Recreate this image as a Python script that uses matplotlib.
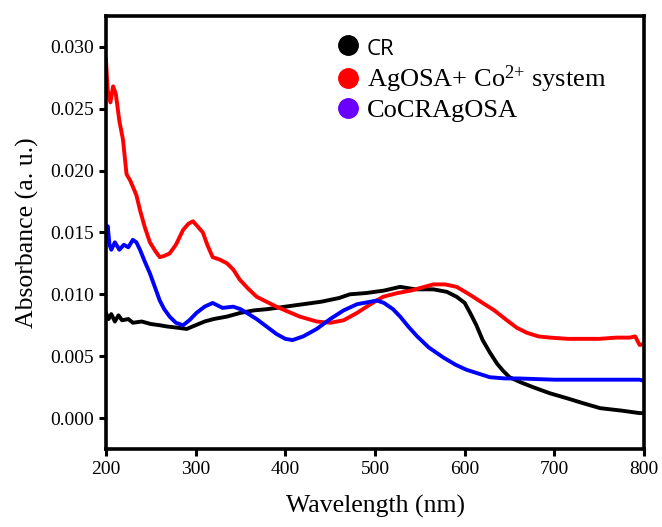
import matplotlib
matplotlib.use("Agg")
import matplotlib.pyplot as plt
from matplotlib.lines import Line2D

# --- data ----------------------------------------------------------------
wl_cr = [200, 203, 206, 210, 214, 218, 225, 230, 240, 250, 260, 268, 280, 290,
         300, 310, 320, 335, 350, 365, 380, 400, 420, 440, 460, 472, 490, 510,
         528, 545, 565, 580, 591, 600, 606, 613, 620, 628, 636, 643, 650, 662,
         676, 695, 714, 732, 751, 775, 795, 800]
abs_cr = [0.0085, 0.0080, 0.0084, 0.0078, 0.0083, 0.0079, 0.0080, 0.0077,
          0.0078, 0.0076, 0.0075, 0.0074, 0.0073, 0.0072, 0.0075, 0.0078,
          0.0080, 0.0082, 0.0085, 0.0087, 0.0088, 0.0090, 0.0092, 0.0094,
          0.0097, 0.0100, 0.0101, 0.0103, 0.0106, 0.0104, 0.0104, 0.0102,
          0.0098, 0.0093, 0.0085, 0.0075, 0.0063, 0.0053, 0.0044, 0.0038,
          0.0033, 0.0029, 0.0025, 0.0020, 0.0016, 0.0012, 0.0008, 0.0006,
          0.0004, 0.0004]

wl_agco = [200, 202, 205, 208, 211, 215, 219, 223, 227, 230, 234, 238, 243,
           249, 255, 260, 265, 271, 278, 286, 292, 297, 302, 308, 313, 319,
           327, 335, 342, 349, 358, 368, 379, 390, 403, 416, 435, 450, 465,
           480, 495, 509, 525, 540, 555, 565, 578, 591, 605, 620, 633, 647,
           658, 669, 682, 695, 715, 732, 750, 769, 784, 790, 795, 800]
abs_agco = [0.0290, 0.0265, 0.0255, 0.0268, 0.0262, 0.0240, 0.0225, 0.0197,
            0.0192, 0.0187, 0.0180, 0.0168, 0.0155, 0.0142, 0.0135, 0.0130,
            0.0131, 0.0133, 0.0140, 0.0152, 0.0157, 0.0159, 0.0155, 0.0150,
            0.0140, 0.0130, 0.0128, 0.0125, 0.0120, 0.0112, 0.0105, 0.0098,
            0.0094, 0.0090, 0.0086, 0.0082, 0.0078, 0.0077, 0.0079, 0.0085,
            0.0092, 0.0098, 0.0101, 0.0103, 0.0106, 0.0108, 0.0108, 0.0106,
            0.0100, 0.0093, 0.0087, 0.0079, 0.0073, 0.0069, 0.0066, 0.0065,
            0.0064, 0.0064, 0.0064, 0.0065, 0.0065, 0.0066, 0.0059, 0.0060]

wl_cocr = [200, 202, 204, 206, 210, 215, 220, 225, 230, 234, 238, 243, 249,
           255, 260, 265, 271, 278, 286, 293, 301, 310, 319, 330, 342, 350,
           357, 368, 379, 390, 400, 408, 420, 435, 450, 465, 480, 495, 502,
           510, 520, 528, 537, 547, 560, 576, 590, 602, 615, 628, 645, 660,
           700, 750, 795, 800]
abs_cocr = [0.0150, 0.0155, 0.0140, 0.0136, 0.0142, 0.0136, 0.0140, 0.0138,
            0.0144, 0.0142, 0.0136, 0.0127, 0.0117, 0.0105, 0.0095, 0.0088,
            0.0082, 0.0077, 0.0075, 0.0079, 0.0085, 0.0090, 0.0093, 0.0089,
            0.0090, 0.0088, 0.0085, 0.0080, 0.0074, 0.0068, 0.0064, 0.0063,
            0.0066, 0.0072, 0.0080, 0.0087, 0.0092, 0.0094, 0.0095, 0.0093,
            0.0088, 0.0082, 0.0074, 0.0066, 0.0057, 0.0049, 0.0043, 0.0039,
            0.0036, 0.0033, 0.0032, 0.0032, 0.0031, 0.0031, 0.0031, 0.0030]

labels = ["CR", "AgOSA+ Co$^{2{+}}$ system", "CoCRAgOSA"]
x_ticks = [200, 300, 400, 500, 600, 700, 800]
y_ticks = [0.000, 0.005, 0.010, 0.015, 0.020, 0.025, 0.030]

plt.rcParams["font.family"] = ["Liberation Serif", "DejaVu Serif"]
plt.rcParams["mathtext.default"] = "regular"

fig = plt.figure(figsize=(6.62, 5.27), dpi=100)
ax = fig.add_axes([0.160, 0.148, 0.813, 0.822])

lw = 2.8
ax.plot(wl_cr, abs_cr, color="black", lw=lw)
ax.plot(wl_agco, abs_agco, color="#ff0000", lw=lw)
ax.plot(wl_cocr, abs_cocr, color="#0000ff", lw=lw)

ax.set_xlim(200, 800)
ax.set_ylim(-0.0025, 0.0325)
ax.set_xticks(x_ticks)
ax.set_yticks(y_ticks)
ax.set_yticklabels([f"{v:.3f}" for v in y_ticks])
ax.tick_params(direction="out", length=5, width=2.2, labelsize=14,
               top=False, right=False)
for sp in ax.spines.values():
    sp.set_linewidth(2.6)

ax.set_xlabel("Wavelength (nm)", fontsize=18.5, labelpad=12)
ax.set_ylabel("Absorbance (a. u.)", fontsize=18.5, labelpad=8)

handles = [Line2D([], [], ls="none", marker="o", ms=14, color=c)
           for c in ["black", "#ff0000", "#6a00ff"]]
leg = ax.legend(handles, labels, loc="upper left", bbox_to_anchor=(0.382, 1.008),
                frameon=False, fontsize=19, handletextpad=0.2,
                labelspacing=0.15, handlelength=1.0)
leg.get_texts()[0].set_family("Open Sans")
leg.get_texts()[0].set_fontsize(16)

fig.savefig("out.png", dpi=100)
